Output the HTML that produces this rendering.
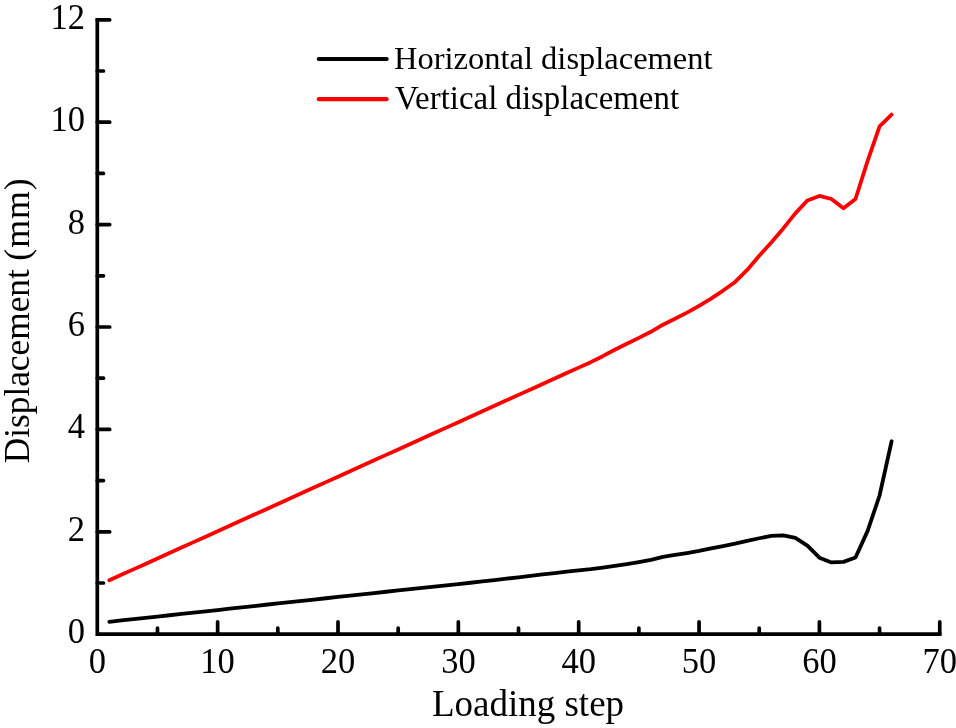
<!DOCTYPE html>
<html><head><meta charset="utf-8"><style>
html,body{margin:0;padding:0;background:#fff;}
svg{display:block;will-change:transform;}
text{font-family:"Liberation Serif", serif;fill:#000;}
</style></head><body>
<svg width="956" height="728" viewBox="0 0 956 728">
<rect width="956" height="728" fill="#fff"/>
<path d="M97.30,18.10 L97.30,634.20 L941.45,634.20" fill="none" stroke="#000" stroke-width="3.7" stroke-linejoin="miter"/>
<path d="M97.30,583.00 L103.50,583.00 M97.30,531.80 L109.70,531.80 M97.30,480.60 L103.50,480.60 M97.30,429.40 L109.70,429.40 M97.30,378.20 L103.50,378.20 M97.30,327.00 L109.70,327.00 M97.30,275.80 L103.50,275.80 M97.30,224.60 L109.70,224.60 M97.30,173.40 L103.50,173.40 M97.30,122.20 L109.70,122.20 M97.30,71.00 L103.50,71.00 M97.30,19.80 L109.70,19.80 M157.47,634.20 L157.47,628.00 M217.65,634.20 L217.65,621.80 M277.82,634.20 L277.82,628.00 M338.00,634.20 L338.00,621.80 M398.18,634.20 L398.18,628.00 M458.35,634.20 L458.35,621.80 M518.52,634.20 L518.52,628.00 M578.70,634.20 L578.70,621.80 M638.88,634.20 L638.88,628.00 M699.05,634.20 L699.05,621.80 M759.22,634.20 L759.22,628.00 M819.40,634.20 L819.40,621.80 M879.57,634.20 L879.57,628.00 M939.75,634.20 L939.75,621.80" fill="none" stroke="#000" stroke-width="3.7" stroke-linecap="round"/>
<text transform="translate(85,643.2) scale(1,1.05)" text-anchor="end" font-size="34.5">0</text>
<text transform="translate(85,540.8) scale(1,1.05)" text-anchor="end" font-size="34.5">2</text>
<text transform="translate(85,438.4) scale(1,1.05)" text-anchor="end" font-size="34.5">4</text>
<text transform="translate(85,336.0) scale(1,1.05)" text-anchor="end" font-size="34.5">6</text>
<text transform="translate(85,233.6) scale(1,1.05)" text-anchor="end" font-size="34.5">8</text>
<text transform="translate(85,131.2) scale(1,1.05)" text-anchor="end" font-size="34.5">10</text>
<text transform="translate(85,28.8) scale(1,1.05)" text-anchor="end" font-size="34.5">12</text>
<text transform="translate(97.3,672.8) scale(1,1.05)" text-anchor="middle" font-size="34.5">0</text>
<text transform="translate(217.6,672.8) scale(1,1.05)" text-anchor="middle" font-size="34.5">10</text>
<text transform="translate(338.0,672.8) scale(1,1.05)" text-anchor="middle" font-size="34.5">20</text>
<text transform="translate(458.4,672.8) scale(1,1.05)" text-anchor="middle" font-size="34.5">30</text>
<text transform="translate(578.7,672.8) scale(1,1.05)" text-anchor="middle" font-size="34.5">40</text>
<text transform="translate(699.0,672.8) scale(1,1.05)" text-anchor="middle" font-size="34.5">50</text>
<text transform="translate(819.4,672.8) scale(1,1.05)" text-anchor="middle" font-size="34.5">60</text>
<text transform="translate(939.8,672.8) scale(1,1.05)" text-anchor="middle" font-size="34.5">70</text>
<text x="528" y="715.6" text-anchor="middle" font-size="37">Loading step</text>
<text transform="translate(29.2,463.3) rotate(-90)" font-size="35.3">Displacement</text>
<text transform="translate(29.2,260.7) rotate(-90)" font-size="35.8" letter-spacing="0.95">(mm)</text>
<path d="M318.8,59 L386.6,59" stroke="#000" stroke-width="4.2" stroke-linecap="round"/>
<path d="M318.8,99.2 L386.6,99.2" stroke="#f00" stroke-width="4.2" stroke-linecap="round"/>
<text x="394" y="69.2" font-size="32.5">Horizontal displacement</text>
<text x="395" y="108.6" font-size="32.9">Vertical displacement</text>
<path d="M109.33,621.81 L121.37,620.48 L133.41,619.20 L145.44,617.87 L157.47,616.59 L169.51,615.26 L181.55,613.98 L193.58,612.64 L205.62,611.31 L217.65,610.03 L229.69,608.70 L241.72,607.42 L253.75,606.09 L265.79,604.76 L277.82,603.43 L289.86,602.10 L301.89,600.82 L313.93,599.54 L325.96,598.26 L338.00,596.93 L350.04,595.65 L362.07,594.37 L374.11,593.09 L386.14,591.76 L398.18,590.48 L410.21,589.20 L422.25,587.97 L434.28,586.69 L446.31,585.36 L458.35,584.08 L470.38,582.74 L482.42,581.41 L494.46,580.03 L506.49,578.65 L518.52,577.27 L530.56,575.83 L542.60,574.45 L554.63,573.02 L566.66,571.63 L578.70,570.40 L590.74,569.18 L602.77,567.54 L614.80,565.95 L626.84,564.11 L638.88,562.06 L650.91,559.86 L662.94,556.89 L674.98,554.94 L687.01,553.05 L699.05,550.90 L711.08,548.44 L723.12,546.08 L735.15,543.63 L747.19,540.86 L759.22,538.25 L771.26,535.95 L783.29,535.33 L795.33,537.84 L807.37,545.57 L819.40,557.66 L831.43,562.47 L843.47,561.85 L855.50,557.45 L867.54,531.13 L879.57,495.50 L891.61,441.28" fill="none" stroke="#000" stroke-width="3.8" stroke-linejoin="round" stroke-linecap="round"/>
<path d="M109.33,580.29 L121.37,574.83 L133.41,569.38 L145.44,563.93 L157.47,558.48 L169.51,553.02 L181.55,547.57 L193.58,542.12 L205.62,536.66 L217.65,531.21 L229.69,525.76 L241.72,520.31 L253.75,514.85 L265.79,509.40 L277.82,503.95 L289.86,498.49 L301.89,493.04 L313.93,487.59 L325.96,482.14 L338.00,476.68 L350.04,471.23 L362.07,465.78 L374.11,460.32 L386.14,454.87 L398.18,449.42 L410.21,443.97 L422.25,438.51 L434.28,433.06 L446.31,427.61 L458.35,422.16 L470.38,416.70 L482.42,411.25 L494.46,405.80 L506.49,400.34 L518.52,394.89 L530.56,389.44 L542.60,383.99 L554.63,378.53 L566.66,373.08 L578.70,367.63 L590.74,362.17 L602.77,356.18 L614.80,349.78 L626.84,343.79 L638.88,337.91 L650.91,331.81 L662.94,324.70 L674.98,318.71 L687.01,312.66 L699.05,305.91 L711.08,298.58 L723.12,290.55 L735.15,281.94 L747.19,269.91 L759.22,255.83 L771.26,242.52 L783.29,228.44 L795.33,213.34 L807.37,200.54 L819.40,195.93 L831.43,199.00 L843.47,208.22 L855.50,199.00 L867.54,161.11 L879.57,126.30 L891.61,114.52" fill="none" stroke="#f00" stroke-width="3.8" stroke-linejoin="round" stroke-linecap="round"/>
</svg>
</body></html>
